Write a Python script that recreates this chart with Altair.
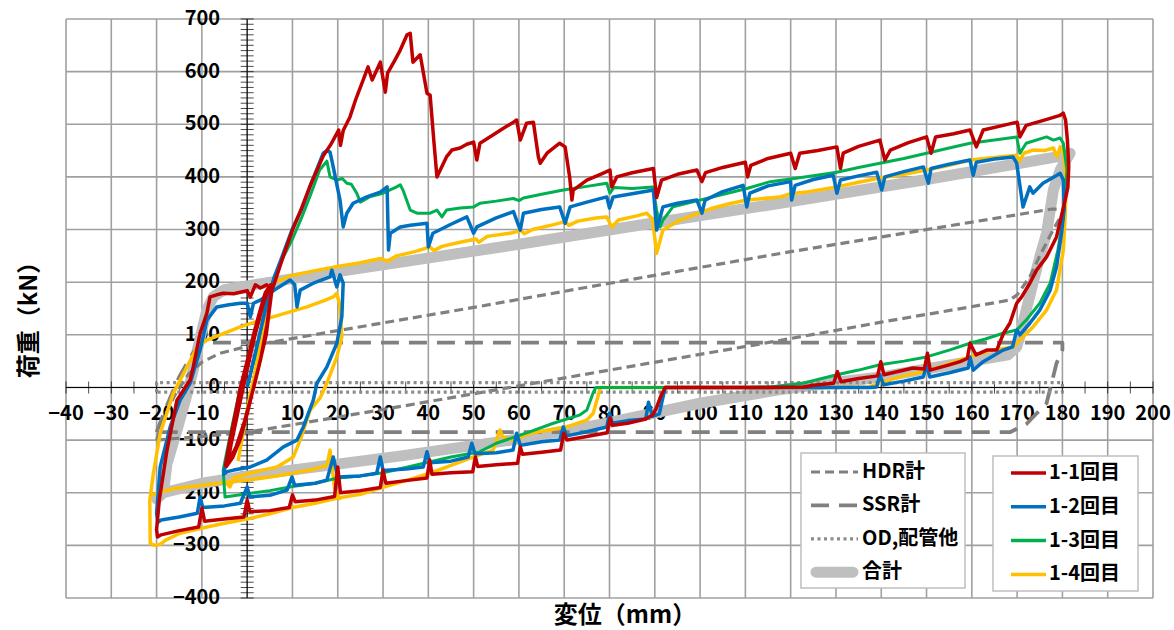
import altair as alt
import pandas as pd

FONT = "Noto Sans CJK JP"

# ---- axes -------------------------------------------------------------
X_GRID = list(range(-40, 201, 10))
Y_GRID = list(range(-400, 701, 100))
X_MINOR = list(range(-40, 201, 5))
Y_MINOR = list(range(-400, 701, 10))
X_LABELS = [v for v in X_GRID if v != 0]
Y_LABELS = Y_GRID

# ---- reference components (gray) -------------------------------------
TOTAL = [(-20, -212), (-18.5, -200), (-17.7, -145), (-15.5, -81), (-13.5, -20), (-12, 30),
         (-11, 71), (-8.9, 147), (-7.5, 172), (-5, 186), (-1.5, 191), (0, 193), (20, 220),
         (34, 238), (60, 272), (90, 313), (117.7, 350), (150, 395), (170, 425), (180, 440),
         (181.7, 445), (179.5, 413), (178, 375), (176.5, 293), (175, 248), (173.5, 198),
         (172, 147), (170.6, 96), (169.9, 77), (168, 62), (160, 50), (150, 35), (140, 20),
         (130, 10), (117, -5), (100, -30), (78, -70), (60, -98), (34, -130), (0, -168),
         (-10, -182), (-18.5, -200)]
HDR = [(-20, -100), (-18.5, -60), (-16, -15), (-13, 25), (-10, 48), (-6, 65), (0, 78),
       (20, 108), (50, 152), (80, 198), (120, 258), (150, 300), (177.7, 339), (180.5, 338),
       (178, 300), (175, 250), (172.8, 210), (170, 176), (168.4, 166), (140, 124),
       (115.5, 86), (80, 33), (60, 3), (34, -36), (12, -68), (0, -85), (-10, -93), (-20, -100)]
SSR = [(-20, -85), (-18, -40), (-15, 20), (-12, 65), (-10, 85), (180, 85), (180, 72),
       (178.7, 46), (176.5, -30), (172, -70), (168.4, -85), (-20, -85)]
OD = [(-20, -9), (-20, 9), (180, 9), (180, -9), (-20, -9)]

# ---- 1-1 -------------------------------------------------------------
RED_LOOPS = [(-4.8, -150), (-3.8, -100), (-2.6, -50), (-1.5, 0), (0, 50), (1.4, 100), (2.8, 145),
             (4, 180), (5.2, 195), (5.5, 188), (4.8, 140), (4.2, 100), (2.8, 48), (1.4, 0),
             (0, -50), (-1.5, -98), (-3.2, -133), (-4.6, -150), (-4.2, -125), (-3.1, -85),
             (-1.0, 0), (1.6, 95), (3.6, 160), (5.0, 192), (5.3, 180), (4.4, 120), (3.0, 55),
             (1.6, 5), (-0.6, -65), (-2.4, -112), (-4.3, -146), (-3.6, -110), (-2.0, -45),
             (-0.5, 15), (1.2, 80), (2.8, 140), (4.4, 182)]
RED_LOADING = [(5.7, 190), (8, 250), (10, 299), (12, 340), (14, 385), (16.8, 440), (18.5, 462),
               (20.2, 489), (20.6, 460), (21.2, 488), (22.7, 514), (24, 548), (25.6, 584),
               (26.7, 609), (27.6, 584), (29.4, 618), (30.5, 561), (31, 597), (32.5, 620),
               (33.8, 641), (35.3, 670), (36, 673), (36.6, 618), (38.2, 632), (39.7, 559),
               (40.4, 555), (41.2, 470), (41.9, 400), (44, 438), (45.2, 451), (47, 455),
               (48.5, 462), (50, 466), (50.7, 432), (51.4, 464), (54, 478), (56.5, 492),
               (58.8, 504), (59.5, 508), (60.3, 470), (61.7, 502), (63.2, 504), (64.3, 438),
               (64.7, 426), (66.2, 445), (69, 464), (70.2, 457), (71.2, 400), (71.7, 356),
               (72, 375), (75, 394), (78, 405), (80.1, 413), (80.5, 381), (81.6, 400), (85, 408),
               (89.7, 416), (90.4, 361), (91.5, 394), (95, 405), (99.3, 413), (100.4, 391),
               (101.2, 408), (105, 418), (110, 428), (110.5, 400), (111.2, 422), (115, 435),
               (120, 445), (121, 416), (122, 445), (126, 450), (130.2, 457), (131, 416),
               (131.6, 445), (135, 458), (139.7, 470), (140.8, 432), (142, 451), (146, 465),
               (150, 476), (151, 445), (152, 476), (156, 482), (159.6, 489), (161, 457),
               (162.5, 489), (166, 496), (170, 504), (170.6, 476), (172, 498), (176, 508),
               (179.5, 517), (180.2, 521), (180.7, 508)]
RED_UNLOADING = [(181.1, 470), (181.4, 419), (181.2, 380), (180.6, 356), (178.7, 286),
                 (176.5, 248), (174.3, 223), (172.8, 198), (171, 172), (169.9, 160),
                 (168.4, 122), (167, 103), (165.5, 71), (163.3, 71), (160.9, 62), (159.6, 84),
                 (159, 55), (157.4, 49), (155, 43), (150.8, 33), (150.2, 65), (149.5, 35),
                 (147, 37), (140.6, 24), (139.9, 49), (139.2, 22), (135, 17), (131.1, 11),
                 (130.3, 30), (129.5, 8), (125, 4), (122.8, 1), (115, 0), (92.3, 0), (91.3, -17),
                 (90.3, -40), (89.6, -52), (88, -60), (84, -68), (80.6, -72), (80.1, -58),
                 (79.5, -86), (75, -93), (70.6, -100), (69.9, -87), (69.2, -119), (65, -123),
                 (60.8, -127), (60.3, -113), (59.7, -144), (55, -147), (50.9, -150),
                 (50.4, -132), (49.8, -160), (45, -162), (40.8, -165), (40.3, -138),
                 (39.7, -172), (35, -177), (30.6, -182), (30, -157), (29.4, -190), (25, -196),
                 (20.6, -200), (20, -151), (19.3, -207), (15, -214), (10.6, -217), (10, -204),
                 (9.3, -228), (5, -234), (0.6, -236), (0, -214), (-0.7, -246), (-5, -250),
                 (-9.4, -254), (-10, -229), (-10.7, -265), (-15, -272), (-19, -280),
                 (-19.8, -284)]
RED_RELOADING = [(-20, -270), (-19.4, -214), (-17.7, -119), (-15.5, -24), (-12.6, 14),
                 (-11.9, 39), (-10.4, 103), (-8.9, 141), (-8.2, 172), (-6.7, 176), (-5.3, 179),
                 (-3, 178), (-1.5, 181), (0, 184), (0.7, 172), (1.8, 195), (2.9, 189), (4.3, 195),
                 (5.7, 185)]

# ---- 1-2 -------------------------------------------------------------
BLUE_LOADING = [(0, 0), (1.5, 55), (3, 110), (4.5, 165), (6, 210), (8, 255), (10, 302),
                (12, 338), (14, 385), (16.8, 445), (17.6, 450), (18.3, 447), (19, 419),
                (20.5, 356), (21.2, 305), (22, 331), (23.4, 350), (26.4, 362), (29.4, 371),
                (30.9, 381), (31.2, 261), (31.6, 293), (33.8, 305), (36, 308), (39.7, 312),
                (40, 267), (41, 293), (45, 310), (48.5, 324), (50, 293), (50.7, 305), (55, 322),
                (58.8, 334), (60.3, 299), (61, 331), (65, 338), (69, 343), (70.2, 312),
                (71.3, 343), (75, 352), (79.4, 362), (80, 341), (80.8, 362), (85, 368),
                (89.7, 375), (90.4, 299), (91.2, 324), (91.8, 343), (95, 350), (99.3, 356),
                (100.4, 331), (101.1, 356), (105, 372), (109.5, 384), (110.3, 343), (111, 369),
                (115, 383), (120, 391), (120.2, 356), (121, 384), (125, 395), (129.4, 403),
                (130.2, 369), (131, 394), (135, 402), (139, 409), (140.1, 375), (140.8, 400),
                (145, 410), (149.3, 419), (150.4, 388), (151, 416), (155, 424), (159.6, 432),
                (160.3, 403), (161, 428), (165, 434), (169.1, 438), (169.9, 426), (171.3, 343),
                (172.8, 381), (173.5, 369), (175.7, 388), (178.8, 403), (179.5, 407),
                (180.2, 394)]
BLUE_UNLOADING = [(180.4, 340), (179.8, 293), (178.7, 229), (177.3, 185), (175, 147),
                  (172.8, 122), (170.6, 100), (169.9, 109), (169, 77), (166.9, 71), (162.5, 49),
                  (160.3, 33), (159.6, 58), (159.2, 37), (155, 28), (150.7, 20), (150, 43),
                  (149.3, 20), (145, 12), (140.5, 5), (139.7, 24), (139, 1), (137.5, 0),
                  (92.3, 0), (91.5, -30), (91, -50), (89.5, -55), (88.6, -28), (88, -60),
                  (84, -63), (80.6, -68), (80, -49), (79.4, -75), (75, -84), (70.5, -92),
                  (69.8, -75), (69, -100), (65, -103), (60.3, -110), (59.5, -87), (58.7, -119),
                  (55, -124), (50.3, -126), (49.6, -106), (48.8, -132), (45, -140),
                  (40.3, -143), (39.7, -122), (38.9, -151), (35, -155), (30, -158),
                  (29.4, -132), (28.6, -163), (25, -168), (20, -170), (19, -132), (17.6, -176),
                  (15, -182), (10.5, -186), (9.9, -170), (8.8, -195), (5, -205), (0.6, -208),
                  (0, -189), (-1.5, -220), (-5, -225), (-9.8, -228), (-10.4, -208),
                  (-11, -239), (-15, -246), (-19, -252), (-19.7, -256)]
BLUE_RELOADING = [(-20, -239), (-19.2, -151), (-17, -75), (-14.8, -24), (-12.6, 8),
                  (-10.4, 71), (-8.9, 128), (-6.7, 153), (-4, 157), (-1.5, 160), (0, 160),
                  (0.7, 134), (1.4, 160), (2.9, 166), (6, 185), (9.5, 204), (10.5, 195),
                  (11, 153), (11.7, 185), (14.6, 198), (18.3, 210), (18.7, 223), (19.8, 191),
                  (20.5, 214), (21.2, 198), (20.9, 134), (19.8, 84), (17.6, 39), (15.4, 8),
                  (14.6, -24), (12.4, -75), (11, -100), (8, -113), (4.3, -138), (0.7, -151),
                  (-3, -157), (-4.4, -160), (-5.2, -165), (-4.2, -120), (-3, -70), (-1.5, -10),
                  (0, 40)]

# ---- 1-3 -------------------------------------------------------------
GREEN_LOADING = [(0, 0), (1.5, 50), (3, 110), (4.3, 165), (6, 210), (8, 248), (10, 282),
                 (12, 322), (14, 366), (16, 413), (17.6, 430), (18.3, 400), (19.8, 394),
                 (21, 397), (22, 388), (23, 386), (24.2, 369), (25, 352), (27, 362), (30, 369),
                 (33, 381), (33.8, 385), (34.4, 375), (36, 337), (37.5, 331), (40.4, 331),
                 (41.9, 337), (43, 324), (44, 337), (47, 341), (50, 343), (51.4, 350), (55, 354),
                 (58.8, 359), (60, 355), (61, 360), (65, 367), (69.8, 375), (75, 382),
                 (79.4, 388), (80.1, 369), (81, 380), (85, 378), (89.6, 381), (90.4, 337),
                 (91.2, 305), (91.8, 318), (94, 343), (98, 352), (102.9, 362), (110.3, 378),
                 (115.5, 391), (120, 396), (125, 402), (130.2, 409), (135, 418), (139.7, 426),
                 (145, 435), (150, 445), (155, 455), (159.6, 464), (165, 470), (169.9, 476),
                 (170.6, 445), (172, 464), (176.5, 476), (178, 470), (179.5, 474), (180.2, 464)]
GREEN_UNLOADING = [(181, 413), (180.2, 324), (179, 261), (177.3, 198), (175, 160), (172, 128),
                   (169.9, 109), (166.9, 103), (163, 92), (159.6, 84), (155, 71), (150, 58),
                   (145, 50), (139.7, 43), (135, 33), (130.2, 24), (126, 15), (122.8, 8),
                   (115.5, 1), (110, 0), (77, 0), (76.4, -10), (75, -43), (73.5, -52),
                   (67.6, -68), (62.5, -84), (55, -106), (51.4, -122), (45, -132), (40, -142),
                   (35, -152), (30, -162), (25, -168), (20, -172), (15, -182), (10, -188),
                   (5, -196), (0, -202), (-4.9, -208)]
GREEN_RELOADING = [(-5.3, -157), (-4.2, -110), (-3, -60), (-1.5, 0)]

# ---- 1-4 -------------------------------------------------------------
YELLOW_LOADING = [(-2, -140), (-1, -90), (0.5, -20), (2, 40), (3, 85), (4.4, 140), (5, 175),
                  (6, 200), (10, 213), (15, 222), (20, 230), (25, 237), (29.4, 245), (31, 240),
                  (33, 250), (37, 258), (40.4, 267), (41.2, 260), (43, 268), (47, 276),
                  (50.5, 282), (51.2, 276), (53, 287), (58, 293), (60.5, 298), (61.2, 292),
                  (63, 300), (67, 308), (70.2, 315), (71, 308), (73, 316), (77, 322), (79.4, 324),
                  (80.5, 305), (82, 318), (86, 326), (88.2, 331), (89.5, 320), (90.4, 255),
                  (91.8, 299), (95.6, 318), (100, 332), (102.9, 341), (106, 348), (110.3, 356),
                  (117.7, 362), (120, 368), (124, 372), (130.2, 381), (135, 390), (139.7, 398),
                  (145, 405), (150, 413), (155, 422), (159.6, 432), (165, 437), (169.9, 441),
                  (170.5, 430), (171.5, 445), (173.5, 451), (176, 450), (178, 455), (178.8, 438),
                  (179.5, 457), (180.4, 440)]
YELLOW_UNLOADING = [(180.8, 380), (180.6, 324), (180.2, 261), (178.7, 185), (176.5, 147),
                    (173.5, 115), (170.6, 90), (169.1, 77), (164, 70), (159.6, 58), (155, 45),
                    (150.7, 33), (145, 22), (140.5, 11), (137.5, 1), (130, 0), (78, 0),
                    (76.4, -49), (75, -62), (70.6, -75), (62.5, -87), (58.8, -100), (56.5, -95),
                    (55.8, -81), (54.3, -119), (50, -132), (45, -148), (40.4, -163), (35, -177),
                    (29.4, -191), (25, -203), (20, -210), (15, -220), (10, -228), (5, -240),
                    (0, -250), (-5, -258), (-8.9, -265), (-14.8, -277), (-18, -290),
                    (-19.2, -298), (-20.5, -300), (-21.4, -296)]
YELLOW_RELOADING = [(-21.5, -214), (-20.7, -163), (-19.2, -87), (-16.3, -11), (-13.3, 39),
                    (-11, 77), (-8.9, 90), (-5, 103), (-1.5, 115), (2, 125), (5.7, 134), (10, 145),
                    (13.2, 153), (17, 165), (19, 172), (19.8, 179), (20.5, 153), (20.9, 96),
                    (19.8, 58), (17.6, 8), (16.1, -20), (13.9, -43), (11.7, -100), (10.2, -132),
                    (6.6, -151), (3, -158), (0.7, -163), (-3, -172), (-3.8, -189), (-5.3, -176)]
YELLOW_INNER = [(-21, -205), (-19, -198), (-16, -192), (-10, -186), (-3, -178), (0, -176),
                (5, -170), (10, -163), (15, -155), (17.6, -148), (18.3, -119), (19.3, -190),
                (20.5, -214)]

# ---- legend entries ---------------------------------------------------
LEGEND_COMPONENTS = ["HDR計", "SSR計", "OD,配管他", "合計"]
LEGEND_CYCLES = ["1-1回目", "1-2回目", "1-3回目", "1-4回目"]
CYCLE_COLORS = ["#C00000", "#0070C0", "#00B050", "#FFC000"]

GRAY_DASH = "#808080"
DOT_GRAY = "#8C8C8C"
TOTAL_GRAY = "#BFBFBF"
LW = 3.5

W, H = 1087, 579
X_DOMAIN = [-40, 200]
Y_DOMAIN = [-400, 700]


def xq(field):
    return alt.X(field, type="quantitative", scale=alt.Scale(domain=X_DOMAIN, nice=False, zero=False), axis=None)


def yq(field):
    return alt.Y(field, type="quantitative", scale=alt.Scale(domain=Y_DOMAIN, nice=False, zero=False), axis=None)


def path_frame(*segments):
    rows = []
    for s, pts in enumerate(segments):
        for i, (x, y) in enumerate(pts):
            rows.append({"x": x, "y": y, "seg": s, "i": i})
    return pd.DataFrame(rows)


def path_layer(df, **mark):
    return alt.Chart(df).mark_line(strokeJoin="round", **mark).encode(
        x=xq("x"), y=yq("y"), detail="seg:N", order="i:Q")


def minus(v):
    return str(v).replace("-", "\u2212")


one = pd.DataFrame({"k": [0]})
LABEL_STYLE = dict(fontSize=20, font=FONT, fontWeight="bold", color="black")

# grid lines
vgrid_df = pd.DataFrame({"x": X_GRID, "y": Y_DOMAIN[0], "y2": Y_DOMAIN[1]})
hgrid_df = pd.DataFrame({"y": Y_GRID, "x": X_DOMAIN[0], "x2": X_DOMAIN[1]})
vgrid = alt.Chart(vgrid_df).mark_rule(color="#A0A0A0", strokeWidth=1.6).encode(
    x=xq("x"), y=yq("y"), y2="y2")
hgrid = alt.Chart(hgrid_df).mark_rule(color="#A0A0A0", strokeWidth=1.6).encode(
    y=yq("y"), x=xq("x"), x2="x2")

# axis lines through the origin
xaxis = alt.Chart(pd.DataFrame({"x": [X_DOMAIN[0]], "x2": [X_DOMAIN[1]], "y": [0]})).mark_rule(
    color="black", strokeWidth=1).encode(x=xq("x"), x2="x2", y=yq("y"))
yaxis = alt.Chart(pd.DataFrame({"y": [Y_DOMAIN[0]], "y2": [Y_DOMAIN[1]], "x": [0]})).mark_rule(
    color="black", strokeWidth=1).encode(y=yq("y"), y2="y2", x=xq("x"))
xticks = alt.Chart(pd.DataFrame({"x": X_MINOR, "y": 0})).mark_tick(
    orient="vertical", size=12, thickness=1, color="black").encode(x=xq("x"), y=yq("y"))
yticks = alt.Chart(pd.DataFrame({"y": Y_MINOR, "x": 0})).mark_tick(
    orient="horizontal", size=13, thickness=1, color="black").encode(y=yq("y"), x=xq("x"))

ylab = alt.Chart(pd.DataFrame({"y": Y_LABELS, "x": 0, "t": [minus(v) for v in Y_LABELS]})).mark_text(
    align="right", baseline="middle", dx=-27, **LABEL_STYLE).encode(
    y=yq("y"), x=xq("x"), text="t:N")
xlab = alt.Chart(pd.DataFrame({"x": X_LABELS, "y": 0, "t": [minus(v) for v in X_LABELS]})).mark_text(
    align="center", baseline="middle", dy=27, **LABEL_STYLE).encode(
    x=xq("x"), y=yq("y"), text="t:N")

# data paths
total = path_layer(path_frame(TOTAL), color=TOTAL_GRAY, strokeWidth=11, strokeCap="round")
hdr = path_layer(path_frame(HDR), color=GRAY_DASH, strokeWidth=3.2, strokeDash=[9, 5])
ssr = path_layer(path_frame(SSR), color=GRAY_DASH, strokeWidth=3.8, strokeDash=[18, 10])
od = path_layer(path_frame(OD), color=DOT_GRAY, strokeWidth=3.2, strokeDash=[3, 3.5])

yellow = path_layer(path_frame(YELLOW_LOADING + YELLOW_UNLOADING + YELLOW_RELOADING, YELLOW_INNER),
                    color=CYCLE_COLORS[3], strokeWidth=LW)
green = path_layer(path_frame(GREEN_LOADING + GREEN_UNLOADING + GREEN_RELOADING),
                   color=CYCLE_COLORS[2], strokeWidth=3)
blue = path_layer(path_frame(BLUE_LOADING + BLUE_UNLOADING + BLUE_RELOADING),
                  color=CYCLE_COLORS[1], strokeWidth=LW)
red = path_layer(path_frame(RED_LOOPS + RED_LOADING + RED_UNLOADING + RED_RELOADING),
                 color=CYCLE_COLORS[0], strokeWidth=LW)

# legends (pixel placement inside the plot area)
legend_layers = []
for (bx0, bx1, by0, by1) in [(735, 899, 434, 569), (927, 1072, 437, 572)]:
    legend_layers.append(alt.Chart(one).mark_rect(fill="white", stroke="#BFBFBF", strokeWidth=1.5).encode(
        x=alt.value(bx0), x2=alt.value(bx1), y=alt.value(by0), y2=alt.value(by1)))

comp_styles = [
    dict(color=GRAY_DASH, strokeWidth=3.2, strokeDash=[9, 5]),
    dict(color=GRAY_DASH, strokeWidth=3.8, strokeDash=[18, 10]),
    dict(color=DOT_GRAY, strokeWidth=3.2, strokeDash=[3, 3.5]),
    dict(color=TOTAL_GRAY, strokeWidth=11, strokeCap="round"),
]
LEGEND_TEXT = dict(align="left", baseline="middle", fontSize=20, font=FONT, fontWeight="bold", color="black")
for k, (label, st) in enumerate(zip(LEGEND_COMPONENTS, comp_styles)):
    yy = 453 + k * 33.4
    legend_layers.append(alt.Chart(one).mark_rule(**st).encode(
        x=alt.value(745 if k < 3 else 750), x2=alt.value(792 if k < 3 else 787), y=alt.value(yy)))
    legend_layers.append(alt.Chart(one).mark_text(**LEGEND_TEXT).encode(
        x=alt.value(796), y=alt.value(yy), text=alt.value(label)))
for k, (label, c) in enumerate(zip(LEGEND_CYCLES, CYCLE_COLORS)):
    yy = 454 + k * 33.8
    legend_layers.append(alt.Chart(one).mark_rule(color=c, strokeWidth=LW).encode(
        x=alt.value(945), x2=alt.value(980), y=alt.value(yy)))
    legend_layers.append(alt.Chart(one).mark_text(**LEGEND_TEXT).encode(
        x=alt.value(983), y=alt.value(yy), text=alt.value(label)))

# axis titles
ytitle = alt.Chart(one).mark_text(angle=270, fontSize=24, font=FONT, fontWeight="bold", color="black",
                                  baseline="middle", align="center").encode(
    x=alt.value(-36), y=alt.value(295), text=alt.value("荷重（kN）"))
xtitle = alt.Chart(one).mark_text(fontSize=24, font=FONT, fontWeight="bold", color="black",
                                  baseline="middle", align="center").encode(
    x=alt.value(559), y=alt.value(597), text=alt.value("変位（mm）"))

chart = alt.layer(
    vgrid, hgrid, xaxis, yaxis, xticks, yticks, ylab, xlab,
    total, hdr, ssr, od, yellow, green, blue, red,
    *legend_layers, ytitle, xtitle,
).properties(
    width=W, height=H,
    autosize=alt.AutoSizeParams(type="none"),
    padding={"left": 66, "top": 19, "right": 21, "bottom": 32},
    background="white",
).configure_view(stroke=None)

chart.save("out.html", embed_options={"renderer": "svg", "actions": False})
